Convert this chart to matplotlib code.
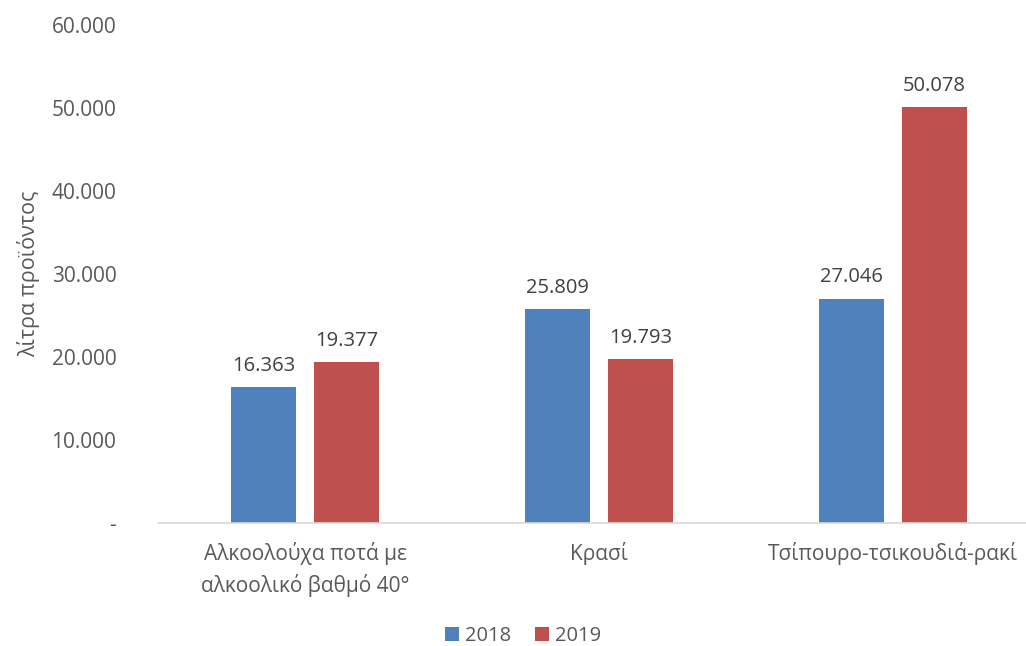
import numpy as np
import matplotlib
matplotlib.use("Agg")
from matplotlib import pyplot as plt
from matplotlib.ticker import FuncFormatter

# data
categories = ["Αλκοολούχα ποτά με\nαλκοολικό βαθμό 40°", "Κρασί", "Τσίπουρο-τσικουδιά-ρακί"]
years = ["2018", "2019"]
vals_2018 = [16363, 25809, 27046]
vals_2019 = [19377, 19793, 50078]
yticks = [0, 10000, 20000, 30000, 40000, 50000, 60000]

plt.rcParams['font.family'] = ['Open Sans', 'DejaVu Sans']

fig = plt.figure(figsize=(10.26, 6.46), dpi=100)
ax = fig.add_axes([158/1026, 1-523/646, (1026-158)/1026, (523-25)/646])

x = np.arange(len(categories))
w = 0.224
off = 0.141
colors = ["#4f81bd", "#c0504d"]

b1 = ax.bar(x - off, vals_2018, w, color=colors[0], label=years[0])
b2 = ax.bar(x + off, vals_2019, w, color=colors[1], label=years[1])

def fmt(v):
    if v == 0:
        return "-"
    return "{:,.0f}".format(v).replace(",", ".")

# value labels above bars
for bars in (b1, b2):
    for r in bars:
        h = r.get_height()
        ax.annotate(fmt(h), (r.get_x() + r.get_width()/2, h), xytext=(0, 8),
                    textcoords="offset points", ha="center", va="bottom",
                    fontsize=14.5, color="#404040")

ax.set_xlim(-0.5, (1026-305)/294)
ax.set_ylim(0, 60000)
ax.set_yticks(yticks)
ax.yaxis.set_major_formatter(FuncFormatter(lambda v, p: fmt(v)))
ax.set_xticks(x)
ax.set_xticklabels(categories, linespacing=1.45)
ax.tick_params(axis='both', length=0, labelsize=15, labelcolor="#595959")
ax.tick_params(axis='y', pad=30)
ax.tick_params(axis='x', pad=14)

for s in ['top', 'right', 'left']:
    ax.spines[s].set_visible(False)
ax.spines['bottom'].set_color("#d9d9d9")
ax.spines['bottom'].set_linewidth(1.2)

ax.set_ylabel("λίτρα προϊόντος", fontsize=15.5, color="#595959", labelpad=8)

leg = fig.legend(loc="center", bbox_to_anchor=(523/1026, 1-636/646), ncol=2,
                 frameon=False, fontsize=14.5, handlelength=0.7, handleheight=0.7,
                 columnspacing=1.2, handletextpad=0.3)
for t in leg.get_texts():
    t.set_color("#595959")

fig.savefig("out.png", dpi=100)
